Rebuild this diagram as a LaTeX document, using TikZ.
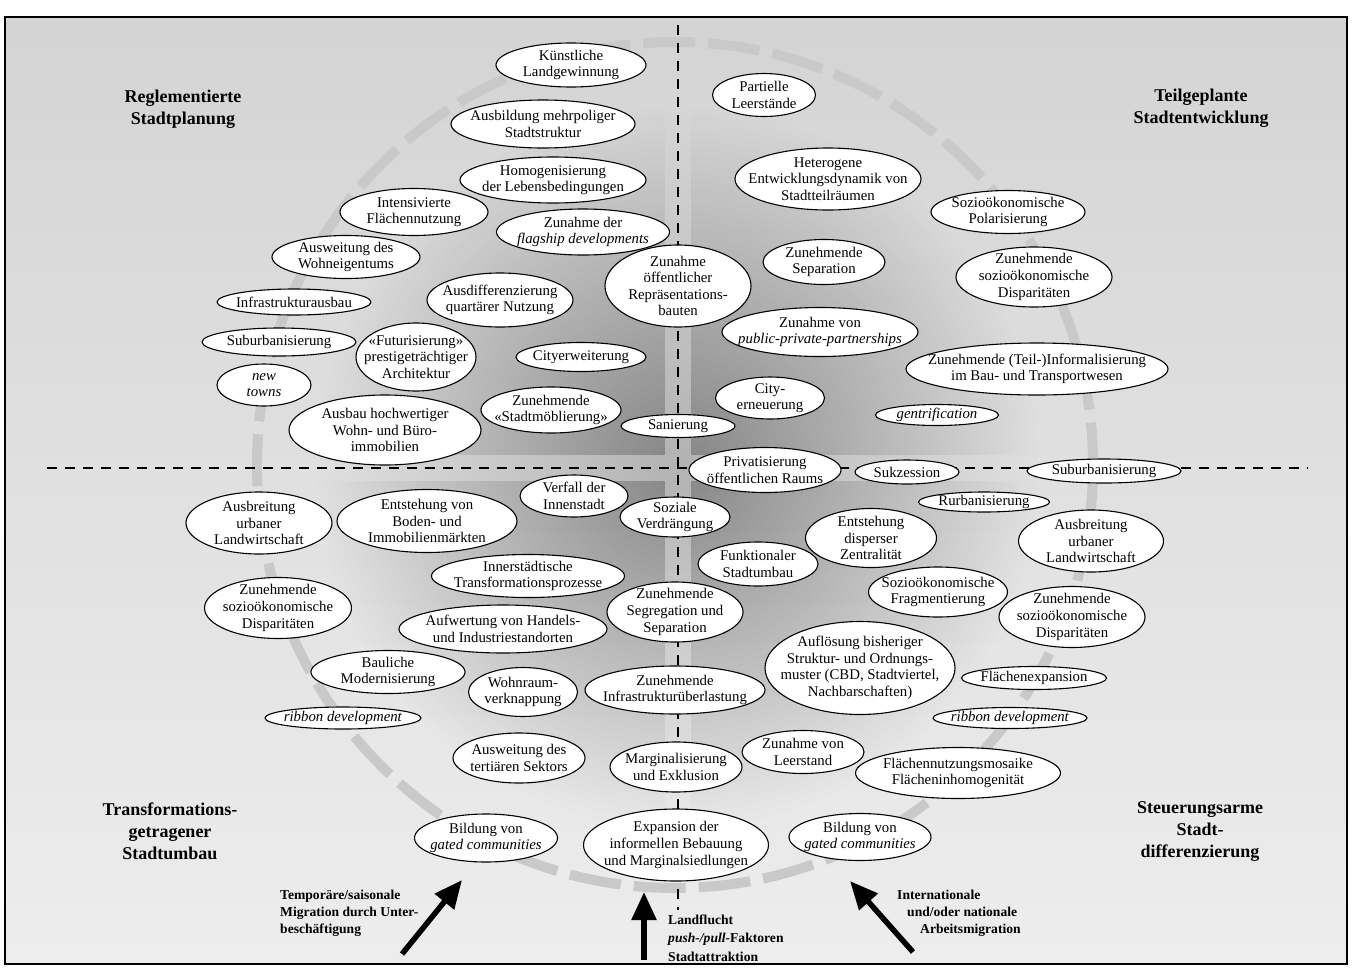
\documentclass[tikz,border=0pt]{standalone}
\usepackage{fontspec}
\setmainfont{Liberation Serif}
\usetikzlibrary{shapes.geometric,arrows.meta}
\tikzset{
 elshape/.style={ellipse, draw=black, fill=white, line width=1.1pt, inner sep=0pt},
 eltext/.style={align=center, font=\fontsize{14.8}{16.6}\selectfont, inner sep=0pt},
 corner/.style={align=center, font=\fontsize{18}{22}\selectfont\bfseries, inner sep=0pt},
 arrlabel/.style={align=left, font=\fontsize{13.6}{16.8}\selectfont\bfseries, inner sep=0pt},
 axisline/.style={line width=2.4pt, dash pattern=on 10pt off 8pt},
 bigarrow/.style={line width=5.5pt, -{Triangle[length=28pt,width=24pt]}},
 ring/.style={draw=black!21, line width=10pt, dash pattern=on 52pt off 13pt},
}
\newcommand{\myel}[5]{%
 \node[elshape, minimum width=#3pt, minimum height=#4pt] (#1) at (#2) {};
 \node[eltext] (#1-t) at (#1.center) {#5};}
\begin{document}
\begin{tikzpicture}[x=1pt,y=-1pt]
\useasboundingbox (0,0) rectangle (1352,967);
\fill[white] (0,0) rectangle (1352,967);
\shade[top color=black!17, bottom color=black!7] (5,17) rectangle (1347,964);
% dashed ring
\draw[ring] (675,465) ellipse [x radius=418, y radius=423];
% central darkening (stacked translucent discs)
\foreach \i in {1,...,45} {
  \fill[black, fill opacity=0.0027] (678,468) circle ({8*\i});
}
\begin{scope}
 \clip (5,17) rectangle (665,455) (691,17) rectangle (1347,455)
       (5,481) rectangle (665,964) (691,481) rectangle (1347,964);
 \foreach \i in {1,...,45} {
   \fill[black, fill opacity=0.0055] (678,468) circle ({8*\i});
 }
\end{scope}
\draw[line width=1.6pt] (5,17) rectangle (1347,964);
% axes
\coordinate (vt) at (678,25); \coordinate (vb) at (678,910);
\coordinate (hl) at (47,468); \coordinate (hr) at (1308,468);
\draw[axisline] (vt) -- (vb);
\draw[axisline] (hl) -- (hr);
% top-left
\myel{k1}{571,65}{150}{44}{Künstliche\\Landgewinnung}
\myel{k2}{543,124}{184}{48}{Ausbildung mehrpoliger\\Stadtstruktur}
\myel{k3}{553,180}{186}{46}{Homogenisierung\\der Lebensbedingungen}
\myel{k4}{414,212}{148}{47}{Intensivierte\\Flächennutzung}
\myel{k5}{583,232}{173}{46}{Zunahme der\\\textit{flagship developments}}
\myel{k6}{346,257}{148}{43}{Ausweitung des\\Wohneigentums}
\myel{k7}{294,302}{154}{26}{Infrastrukturausbau}
\myel{k8}{500,300}{146}{54}{Ausdifferenzierung\\quartärer Nutzung}
\myel{k9}{678,286}{146}{82}{Zunahme\\öffentlicher\\Repräsentations-\\bauten}
\myel{k10}{279,342}{154}{28}{Suburbanisierung}
\myel{k11}{416,357}{120}{68}{«Futurisierung»\\prestigeträchtiger\\Architektur}
\myel{k12}{581,357}{130}{29}{Cityerweiterung}
\myel{k13}{264,385}{94}{42}{\textit{new}\\\textit{towns}}
\myel{k14}{551,410}{140}{46}{Zunehmende\\«Stadtmöblierung»}
\myel{k15}{385,430}{192}{70}{Ausbau hochwertiger\\Wohn- und Büro-\\immobilien}
\myel{k16}{678,426}{114}{23}{Sanierung}
% top-right
\myel{r1}{764,95}{103}{43}{Partielle\\Leerstände}
\myel{r2}{828,179}{186}{62}{Heterogene\\Entwicklungsdynamik von\\Stadtteilräumen}
\myel{r3}{1008,212}{154}{43}{Sozioökonomische\\Polarisierung}
\myel{r4}{824,262}{122}{45}{Zunehmende\\Separation}
\myel{r5}{1034,277}{156}{60}{Zunehmende\\sozioökonomische\\Disparitäten}
\myel{r6}{820,332}{196}{49}{Zunahme von\\\textit{public-private-partnerships}}
\myel{r7}{1037,369}{262}{52}{Zunehmende (Teil-)Informalisierung\\im Bau- und Transportwesen}
\myel{r8}{770,398}{109}{42}{City-\\erneuerung}
\myel{r9}{937,415}{123}{21}{\textit{gentrification}}
\myel{r10}{765,470}{152}{45}{Privatisierung\\öffentlichen Raums}
\myel{r11}{907,472}{104}{24}{Sukzession}
\myel{r12}{1104,471}{154}{24}{Suburbanisierung}
% bottom-left
\myel{b1}{574,496}{108}{42}{Verfall der\\Innenstadt}
\myel{b2}{675,517}{110}{40}{Soziale\\Verdrängung}
\myel{b3}{259,523}{146}{62}{Ausbreitung\\urbaner\\Landwirtschaft}
\myel{b4}{427,521}{180}{63}{Entstehung von\\Boden- und\\Immobilienmärkten}
\myel{b5}{528,576}{193}{43}{Innerstädtische\\Transformationsprozesse}
\myel{b6}{278,608}{147}{61}{Zunehmende\\sozioökonomische\\Disparitäten}
\myel{b7}{503,629}{208}{48}{Aufwertung von Handels-\\und Industriestandorten}
\myel{b8}{675,612}{136}{60}{Zunehmende\\Segregation und\\Separation}
\myel{b9}{388,672}{154}{43}{Bauliche\\Modernisierung}
\myel{b10}{523,692}{109}{49}{Wohnraum-\\verknappung}
\myel{b11}{675,690}{180}{48}{Zunehmende\\Infrastrukturüberlastung}
\myel{b12}{343,718}{156}{22}{\textit{ribbon development}}
\myel{b13}{519,758}{132}{50}{Ausweitung des\\tertiären Sektors}
\myel{b14}{676,767}{132}{50}{Marginalisierung\\und Exklusion}
\myel{b15}{486,838}{143}{48}{Bildung von\\\textit{gated communities}}
\myel{b16}{676,845}{185}{72}{Expansion der\\informellen Bebauung\\und Marginalsiedlungen}
% bottom-right
\myel{d1}{984,502}{131}{20}{Rurbanisierung}
\myel{d2}{871,538}{131}{59}{Entstehung\\disperser\\Zentralität}
\myel{d3}{1091,541}{145}{62}{Ausbreitung\\urbaner\\Landwirtschaft}
\myel{d4}{758,564}{120}{44}{Funktionaler\\Stadtumbau}
\myel{d5}{938,592}{139}{50}{Sozioökonomische\\Fragmentierung}
\myel{d6}{1072,617}{146}{61}{Zunehmende\\sozioökonomische\\Disparitäten}
\myel{d7}{860,668}{190}{93}{Auflösung bisheriger\\Struktur- und Ordnungs-\\muster (CBD, Stadtviertel,\\Nachbarschaften)}
\myel{d8}{1034,678}{145}{23}{Flächenexpansion}
\myel{d9}{1010,718}{154}{21}{\textit{ribbon development}}
\myel{d10}{803,752}{122}{43}{Zunahme von\\Leerstand}
\myel{d11}{958,773}{205}{51}{Flächennutzungsmosaike\\Flächeninhomogenität}
\myel{d12}{860,837}{142}{47}{Bildung von\\\textit{gated communities}}
% corner labels
\node[corner] (c1) at (183,109) {Reglementierte\\Stadtplanung};
\node[corner] (c2) at (1201,108) {Teilgeplante\\Stadtentwicklung};
\node[corner] (c3) at (170,831) {Transformations-\\getragener\\Stadtumbau};
\node[corner] (c4) at (1200,832) {Steuerungsarme\\Stadt-\\differenzierung};
% arrows
\coordinate (a1s) at (402,954); \coordinate (a1e) at (462,880);
\coordinate (a2s) at (644,960); \coordinate (a2e) at (644,892);
\coordinate (a3s) at (913,952); \coordinate (a3e) at (850,881);
\draw[bigarrow] (a1s) -- (a1e);
\draw[bigarrow] (a2s) -- (a2e);
\draw[bigarrow] (a3s) -- (a3e);
\node[arrlabel, anchor=west] (l1) at (280,913) {Temporäre/saisonale\\Migration durch Unter-\\beschäftigung};
\node[arrlabel, anchor=west, font=\fontsize{13.6}{18.5}\selectfont\bfseries] (l2) at (668,938) {Landflucht\\\textit{push-/pull-}Faktoren\\Stadtattraktion};
\node[arrlabel, anchor=west] (l3) at (897,913) {Internationale\\\hspace*{10pt}und/oder nationale\\\hspace*{23pt}Arbeitsmigration};
\end{tikzpicture}
\end{document}
